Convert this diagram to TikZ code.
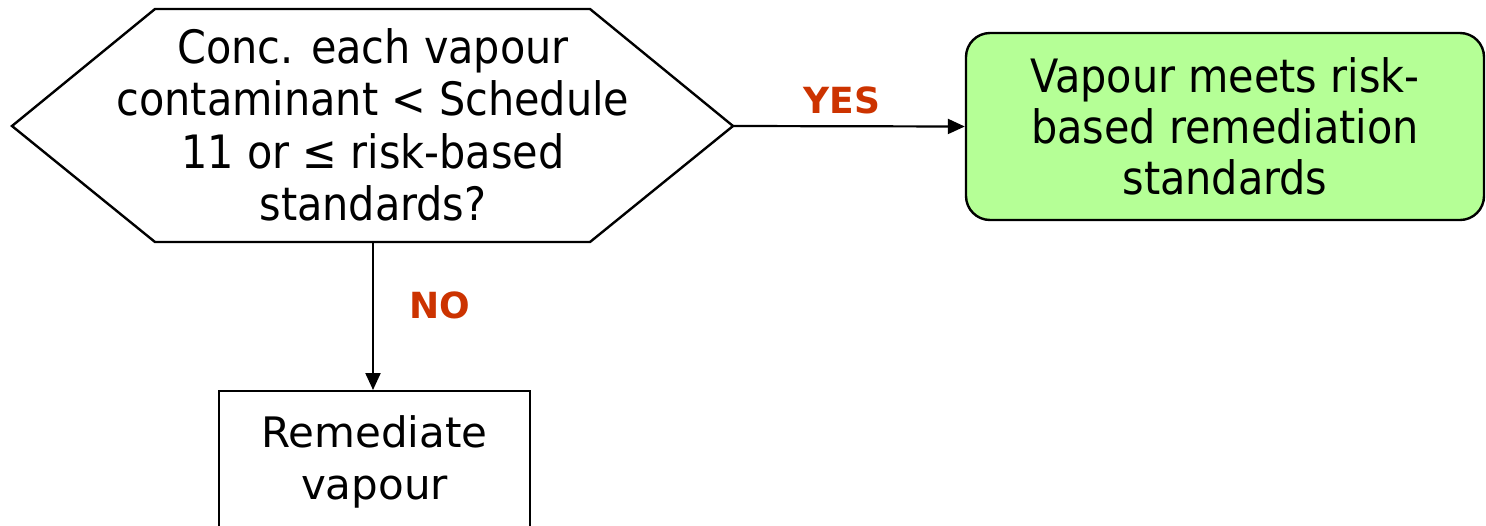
\documentclass[tikz,border=0pt]{standalone}
\usepackage{fontspec}
\setmainfont{DejaVu Sans}
\newfontfamily\condfont{DejaVu Sans Condensed}
\usetikzlibrary{arrows.meta}
\definecolor{lblred}{RGB}{204,51,0}
\definecolor{okgreen}{RGB}{181,255,150}
\tikzset{
  edge/.style={line width=1.1pt,-{Triangle[length=8.5pt,width=7.5pt]}},
  lbl/.style={font=\fontsize{18}{21}\selectfont\bfseries, text=lblred},
  condtext/.style={align=center, font=\condfont\fontsize{23}{26.2}\selectfont},
  okbox/.style={draw, line width=1.2pt, fill=okgreen, rounded corners=12pt, minimum width=259pt, minimum height=93.5pt, align=center, font=\condfont\fontsize{23}{25.5}\selectfont},
  actbox/.style={draw, line width=1.2pt, minimum width=155.5pt, minimum height=71pt, align=center, font=\fontsize{21}{26}\selectfont}
}
\begin{document}
\begin{tikzpicture}[x=0.5pt,y=-0.5pt]
\useasboundingbox (0,0) rectangle (1486,525);
\clip (0,0) rectangle (1486,525);
% decision hexagon
\coordinate (hexL) at (12,126);
\coordinate (hexTL) at (155,9);
\coordinate (hexTR) at (590,9);
\coordinate (hexR) at (733,126);
\coordinate (hexBR) at (590,242);
\coordinate (hexBL) at (155,242);
\coordinate (hexB) at (373,242);
\draw[line width=1.2pt, line join=miter] (hexL) -- (hexTL) -- (hexTR) -- (hexR) -- (hexBR) -- (hexBL) -- cycle;
\node[condtext] (hex) at (373,125) {Conc. each vapour\\contaminant < Schedule\\11 or ≤ risk-based\\standards?};
% outcome boxes
\node[okbox] (ok) at (1225,126.5) {Vapour meets risk-\\based remediation\\standards};
\node[actbox, anchor=north] (rem) at (374.5,390) {Remediate\\vapour};
% connectors
\draw[edge] (hexR) -- (ok.west);
\draw[edge] (hexB) -- (hexB |- rem.north);
% labels
\node[lbl] (yes) at (842,100) {YES};
\node[lbl] (no) at (440,305) {NO};
\end{tikzpicture}
\end{document}
